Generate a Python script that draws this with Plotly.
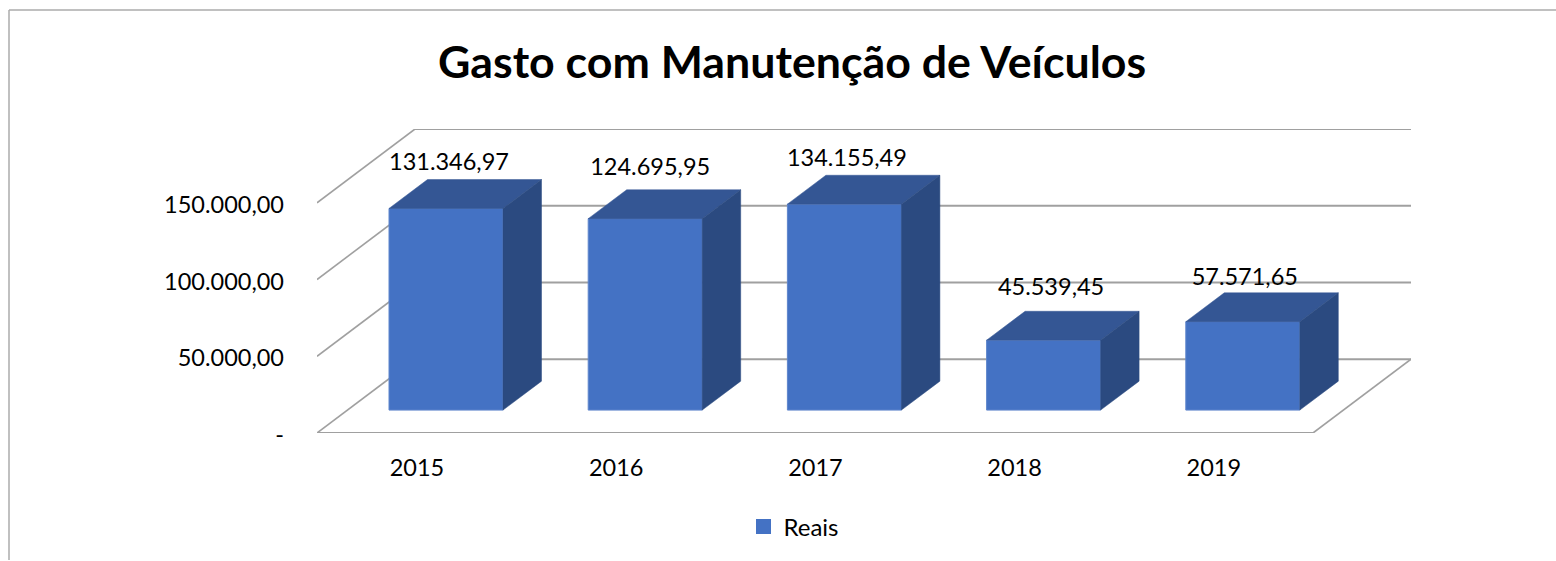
import plotly.graph_objects as go

# --- data ---
categories = ["2015", "2016", "2017", "2018", "2019"]
reais = [131346.97, 124695.95, 134155.49, 45539.45, 57571.65]
y_ticks = [0, 50000, 100000, 150000]
y_tick_labels = ["-", "50.000,00", "100.000,00", "150.000,00"]
value_labels = ["131.346,97", "124.695,95", "134.155,49", "45.539,45", "57.571,65"]
title_text = "Gasto com Manutenção de Veículos"
series_name = "Reais"

# --- geometry (pixels converted to axis units) ---
W, H = 1556, 561
PL, PR, PT, PB = 317, 1411, 128.5, 433.5     # plot rectangle in page pixels
X0_PX, X_STEP = 417, 199.2                   # pixel of first tick, pixels per category
Y_PER_PX = 50000 / 77
xr = [(PL - X0_PX) / X_STEP, (PR - X0_PX) / X_STEP]
yr = [0, (PB - PT) * Y_PER_PX]
FLOOR_L = xr[0]
FLOOR_R = FLOOR_L + 5.0
WALL_DX, WALL_DY = xr[1] - FLOOR_R, 74 * Y_PER_PX
BAR_OFF, BAR_W = 0.1456, 0.5723
BAR_DX, BAR_DY = 38.5 / X_STEP, 29 * Y_PER_PX
BAR_BASE = 23 * Y_PER_PX
LABEL_NUDGE_X = [3, 5, 2.5, 7.5, 2]          # px
LABEL_NUDGE_Y = [44.5, 50, 44.5, 51, 43]     # px above front top edge

FRONT, TOP, SIDE = "#4472C4", "#345694", "#2B4A80"
GRID = "#A0A0A0"
FONT = "Lato"
TXT = "#000000"
SIZE = 23.5

xs = list(range(len(categories)))
fig = go.Figure()

# front faces
fig.add_trace(go.Bar(
    x=[i + BAR_OFF for i in xs], y=reais, base=BAR_BASE, width=BAR_W,
    marker=dict(color=FRONT, line=dict(color="#5F86CC", width=1)),
    name=series_name, showlegend=False, hoverinfo="skip",
))

# top and side faces
for i, v in zip(xs, reais):
    l = i + BAR_OFF - BAR_W / 2
    r = i + BAR_OFF + BAR_W / 2
    t = BAR_BASE + v
    fig.add_trace(go.Scatter(
        x=[l, r, r + BAR_DX, l + BAR_DX, l], y=[t, t, t + BAR_DY, t + BAR_DY, t],
        mode="lines", fill="toself", fillcolor=TOP, line=dict(color=TOP, width=0.5),
        showlegend=False, hoverinfo="skip"))
    fig.add_trace(go.Scatter(
        x=[r, r + BAR_DX, r + BAR_DX, r, r],
        y=[t, t + BAR_DY, BAR_BASE + BAR_DY, BAR_BASE, t],
        mode="lines", fill="toself", fillcolor=SIDE, line=dict(color=SIDE, width=0.5),
        showlegend=False, hoverinfo="skip"))

# data labels
fig.add_trace(go.Scatter(
    x=[i + BAR_OFF + nx / X_STEP for i, nx in zip(xs, LABEL_NUDGE_X)],
    y=[BAR_BASE + v + ny * Y_PER_PX for v, ny in zip(reais, LABEL_NUDGE_Y)],
    mode="text", text=value_labels, textposition="middle center",
    textfont=dict(family=FONT, size=SIZE, color=TXT),
    cliponaxis=False, showlegend=False, hoverinfo="skip"))

# legend entry
fig.add_trace(go.Scatter(
    x=[None], y=[None], mode="markers", name=series_name,
    marker=dict(symbol="square", size=15, color=FRONT), showlegend=True, hoverinfo="skip"))

# walls and floor, behind the bars
shapes = []
def seg(x0, y0, x1, y1, w=2):
    shapes.append(dict(type="line", xref="x", yref="y", x0=x0, y0=y0, x1=x1, y1=y1,
                       layer="below", line=dict(color=GRID, width=w)))
for t in y_ticks:
    seg(FLOOR_L, t, FLOOR_L + WALL_DX, t + WALL_DY, 1.6)
    seg(FLOOR_L + WALL_DX, t + WALL_DY, FLOOR_R + WALL_DX, t + WALL_DY)
seg(FLOOR_L, 0, FLOOR_R, 0)
seg(FLOOR_R, 0, FLOOR_R + WALL_DX, WALL_DY, 1.6)

# chart frame (left and top edges)
frame = "#ABABAB"
FX, FY = 9, 9
shapes.append(dict(type="line", xref="paper", yref="paper",
                   x0=(FX - PL) / (PR - PL), x1=(FX - PL) / (PR - PL),
                   y0=(PB - H) / (PB - PT), y1=(PB - FY) / (PB - PT),
                   line=dict(color=frame, width=1.5)))
shapes.append(dict(type="line", xref="paper", yref="paper",
                   x0=(FX - PL) / (PR - PL), x1=(W - PL) / (PR - PL),
                   y0=(PB - FY) / (PB - PT), y1=(PB - FY) / (PB - PT),
                   line=dict(color=frame, width=1.5)))

fig.update_layout(
    width=W, height=H, autosize=False,
    margin=dict(l=PL, r=W - PR, t=PT, b=H - PB, pad=0),
    paper_bgcolor="white", plot_bgcolor="rgba(0,0,0,0)",
    font=dict(family=FONT, color=TXT),
    title=dict(text=title_text, x=792 / W, xanchor="center", y=1 - 62 / H, yanchor="middle",
               font=dict(family=FONT, size=44.7, color=TXT, weight="bold")),
    xaxis=dict(range=xr, tickvals=xs, ticktext=categories, showgrid=False, zeroline=False,
               showline=False, ticks="", ticklabelstandoff=18,
               tickfont=dict(family=FONT, size=SIZE, color=TXT)),
    yaxis=dict(range=yr, tickvals=y_ticks, ticktext=y_tick_labels, showgrid=False, zeroline=False,
               showline=False, ticks="", ticklabelstandoff=32, ticklabelshift=2,
               tickfont=dict(family=FONT, size=SIZE, color=TXT)),
    legend=dict(x=794 / W, xref="container", y=1 - 527 / H, yref="container",
                xanchor="center", yanchor="middle", orientation="h",
                font=dict(family=FONT, size=24, color=TXT)),
    shapes=shapes,
)

fig.write_html("out.html", config=dict(displayModeBar=False),
               post_script="document.body.style.margin='0';")
